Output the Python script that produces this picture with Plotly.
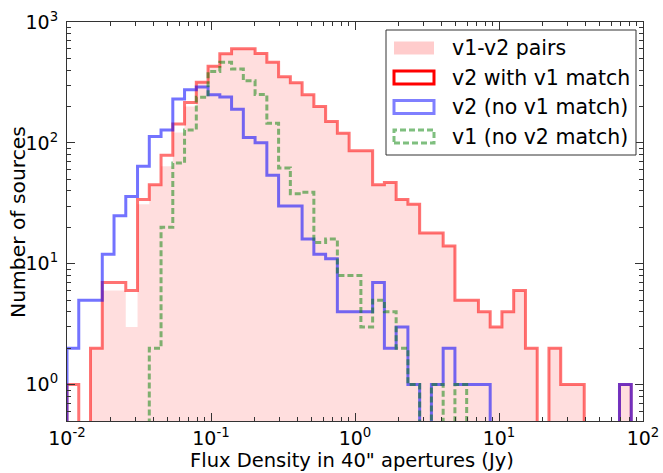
import numpy as np
import plotly.graph_objects as go

# ---- data (49 log-spaced bins from 1e-2 to 1e2) ----
bin_edges_exp = (-2, 2)
n_bins = 49

pairs = [0, 0, 2, 6, 6, 3, 31, 45, 64, 122, 200, 318, 430, 545, 600, 600, 548, 464, 353, 315,
         250, 200, 150, 120, 86, 86, 45, 47, 34, 31, 18, 18, 14, 5, 5, 4, 3, 4, 6, 2,
         0, 2, 1, 1, 0, 0, 0, 1, 0]
v2_match = [1, 0, 2, 7, 7, 6, 34, 45, 79, 143, 216, 318, 430, 545, 600, 600, 548, 464, 353, 315,
            250, 200, 150, 120, 86, 86, 45, 47, 34, 31, 18, 18, 14, 5, 5, 4, 3, 4, 6, 2,
            0, 2, 1, 1, 0, 0, 0, 1, 0]
v2_nomatch = [2, 5, 5, 12, 25, 36, 64, 113, 128, 231, 275, 290, 250, 240, 190, 111, 100, 54, 30, 30,
              16, 12, 11, 4, 4, 4, 7, 2, 3, 1, 0, 1, 2, 1, 1, 1, 0, 0, 0, 0,
              0, 0, 0, 0, 0, 0, 0, 1, 0]
v1_nomatch = [0, 0, 0, 0, 0, 0, 0, 2, 20, 68, 128, 238, 390, 464, 408, 326, 251, 145, 62, 38,
              39, 15, 16, 8, 8, 3, 5, 4, 2, 1, 0, 1, 0, 1, 0, 0, 0, 0, 0, 0,
              0, 0, 0, 0, 0, 0, 0, 0, 0]

x_ticks = [0.01, 0.1, 1, 10, 100]
x_ticktext = ['10<sup>-2</sup>', '10<sup>-1</sup>', '10<sup>0</sup>', '10<sup>1</sup>', '10<sup>2</sup>']
y_ticks = [1, 10, 100, 1000]
y_ticktext = ['10<sup>0</sup>', '10<sup>1</sup>', '10<sup>2</sup>', '10<sup>3</sup>']

legend_labels = ['v1-v2 pairs', 'v2 with v1 match', 'v2 (no v1 match)', 'v1 (no v2 match)']

# ---- helpers ----
edges = np.logspace(bin_edges_exp[0], bin_edges_exp[1], n_bins + 1)
FLOOR = 1e-3  # below visible range: zero-count bins drop off the axis


def step_xy(counts):
    c = np.array(counts, dtype=float)
    c[c <= 0] = FLOOR
    xs = np.concatenate([[edges[0]], np.repeat(edges, 2)[1:-1], [edges[-1]]])
    ys = np.concatenate([[FLOOR], np.repeat(c, 2), [FLOOR]])
    return xs, ys


FONT = 'DejaVu Sans'
fig = go.Figure()

xs, ys = step_xy(pairs)
fig.add_trace(go.Scatter(x=xs, y=ys, mode='lines', fill='toself',
                         fillcolor='rgba(255,0,0,0.13)', line=dict(width=0),
                         hoverinfo='skip', showlegend=False))
xs, ys = step_xy(v2_match)
fig.add_trace(go.Scatter(x=xs, y=ys, mode='lines',
                         line=dict(color='rgba(255,0,0,0.55)', width=3),
                         showlegend=False))
xs, ys = step_xy(v2_nomatch)
fig.add_trace(go.Scatter(x=xs, y=ys, mode='lines',
                         line=dict(color='rgba(0,0,255,0.55)', width=3),
                         showlegend=False))
xs, ys = step_xy(v1_nomatch)
fig.add_trace(go.Scatter(x=xs, y=ys, mode='lines',
                         line=dict(color='rgba(0,128,0,0.5)', width=3, dash='6px,3px'),
                         showlegend=False))

x_minor = [m * 10.0 ** k for k in range(-2, 2) for m in range(2, 10)]
y_minor = [m * 10.0 ** k for k in range(-1, 3) for m in range(2, 10)]

axis_common = dict(showgrid=False, zeroline=False, showline=True, linecolor='#333333',
                   linewidth=1, mirror='allticks', ticks='inside', ticklen=8,
                   tickcolor='#333333', automargin=False,
                   tickfont=dict(family=FONT, size=19, color='black'))

fig.update_xaxes(type='log', range=[-2, 2], tickmode='array', tickvals=x_ticks,
                 ticktext=x_ticktext, ticklabelstandoff=0,
                 minor=dict(tickmode='array', tickvals=x_minor, ticks='inside', ticklen=4,
                            tickcolor='#333333'),
                 **axis_common)
fig.update_yaxes(type='log', range=[np.log10(0.5), 3], tickmode='array', tickvals=y_ticks,
                 ticktext=y_ticktext, ticklabelstandoff=4,
                 minor=dict(tickmode='array', tickvals=y_minor, ticks='inside', ticklen=4,
                            tickcolor='#333333'),
                 **axis_common)

W, H = 663, 473
L, R, T, B = 67, 643, 22, 421
fig.update_layout(width=W, height=H, margin=dict(l=L, r=W - R, t=T, b=H - B, autoexpand=False),
                  plot_bgcolor='white', paper_bgcolor='white', showlegend=False,
                  font=dict(family=FONT, color='black'))


def px(x):
    return (x - L) / (R - L)


def py(y):
    return (B - y) / (B - T)


# axis titles
fig.add_annotation(text='Flux Density in 40" apertures (Jy)', xref='paper', yref='paper',
                   x=px(352), y=py(460), xanchor='center', yanchor='middle',
                   showarrow=False, font=dict(size=19.5, family=FONT))
fig.add_annotation(text='Number of sources', xref='paper', yref='paper', textangle=-90,
                   x=px(18), y=py(222), xanchor='center', yanchor='middle',
                   showarrow=False, font=dict(size=20.3, family=FONT))

# legend (drawn manually to mimic the boxed patch legend)
fig.add_shape(type='rect', xref='paper', yref='paper', x0=px(386), x1=px(636), y0=py(155),
              y1=py(30), line=dict(color='#333333', width=1), fillcolor='white', layer='above')
rows = [48, 77.5, 107, 136.5]
styles = [
    dict(fillcolor='rgba(255,0,0,0.2)', line=dict(width=0)),
    dict(fillcolor='rgba(0,0,0,0)', line=dict(color='rgb(255,0,0)', width=3)),
    dict(fillcolor='rgba(0,0,0,0)', line=dict(color='rgba(0,0,255,0.5)', width=3)),
    dict(fillcolor='rgba(0,0,0,0)', line=dict(color='rgba(0,128,0,0.5)', width=3, dash='6px,3px')),
]
for yc, st, lab in zip(rows, styles, legend_labels):
    fig.add_shape(type='rect', xref='paper', yref='paper', x0=px(394), x1=px(434),
                  y0=py(yc + 6.5), y1=py(yc - 6.5), layer='above', **st)
    fig.add_annotation(text=lab, xref='paper', yref='paper', x=px(450), y=py(yc),
                       xanchor='left', yanchor='middle', showarrow=False,
                       font=dict(size=20.5, family=FONT))

fig.write_html('out.html')
